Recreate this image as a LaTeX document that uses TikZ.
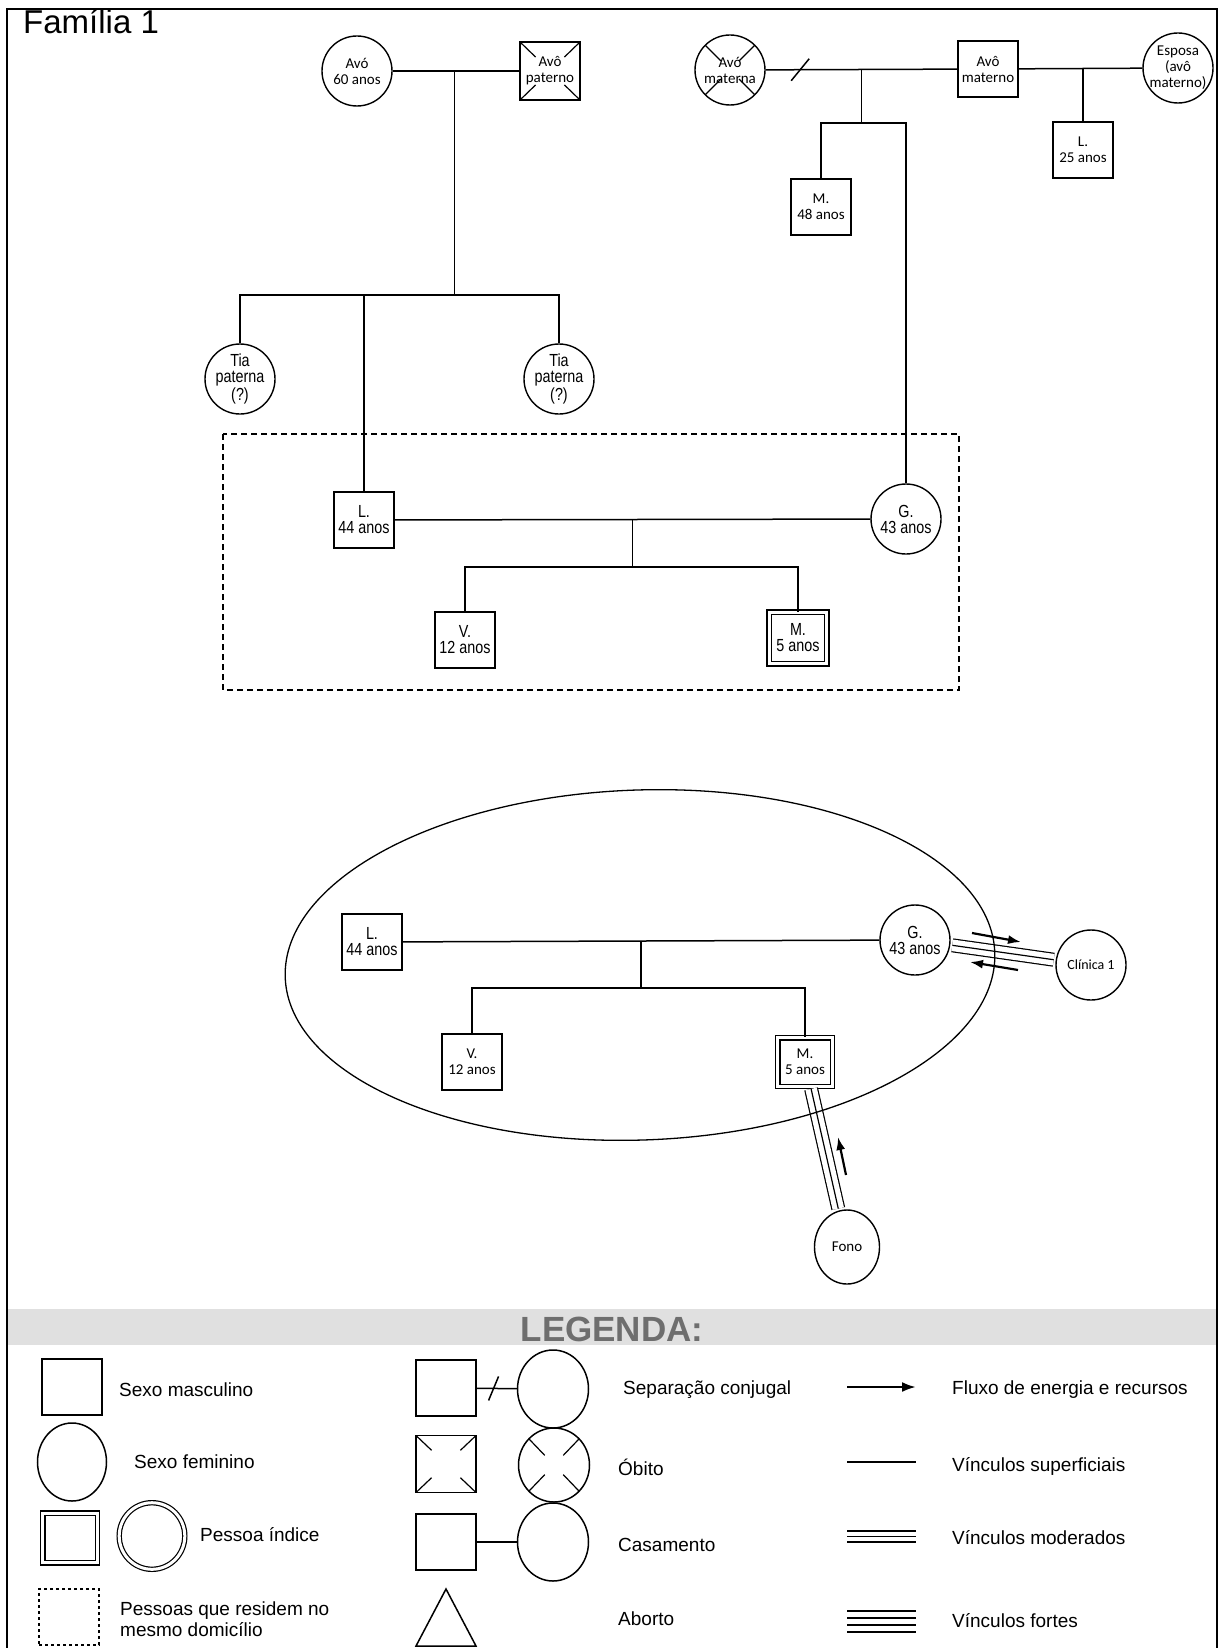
\documentclass[tikz,border=0pt]{standalone}
\usepackage{fontspec}
\setmainfont{Liberation Sans}
\newfontfamily\calfont{Carlito}
\newfontfamily\narrowfont[FakeStretch=0.82]{Liberation Sans}
\usetikzlibrary{shapes.geometric, arrows.meta, calc}

\tikzset{
  male/.style={draw, rectangle, line width=1.4pt, minimum width=60, minimum height=56, inner sep=0pt, align=center},
  female/.style={draw, ellipse, line width=1.4pt, minimum width=70, minimum height=70, inner sep=-6pt, align=center},
  index/.style={male, line width=1.3pt, double, double distance=3pt},
  cal/.style={font=\calfont\fontsize{15}{16}\selectfont},
  nar/.style={font=\narrowfont\fontsize{17.5}{16}\selectfont},
  leg/.style={anchor=west, inner sep=0pt, align=left, font=\fontsize{19}{21}\selectfont},
  tie/.style={line width=1.5pt},
  moderate/.style={line width=14pt, shorten <=2pt, shorten >=2pt,
    postaction={draw=white, line width=11.6pt, shorten <=2pt, shorten >=2pt},
    postaction={draw=black, line width=1.2pt, shorten <=2pt, shorten >=2pt}},
  flow/.style={line width=2.2pt, -{Latex[length=13pt, width=9pt]}},
  deadsq/.style={path picture={
    \foreach \p/\q in {north west/south east, north east/south west, south west/north east, south east/north west}
      \draw[line width=1.2pt] (path picture bounding box.\p) -- ($(path picture bounding box.\p)!0.26!(path picture bounding box.\q)$);}},
  deadci/.style={path picture={
    \foreach \p/\q in {north west/south east, north east/south west, south west/north east, south east/north west}
      \draw[line width=1.2pt] ($(path picture bounding box.\p)!0.12!(path picture bounding box.\q)$) -- ($(path picture bounding box.\p)!0.37!(path picture bounding box.\q)$);}}
}

\begin{document}
\begin{tikzpicture}[x=1pt, y=-1pt]
  \useasboundingbox (0,0) rectangle (1219,1648);
  \draw[line width=1.4pt] (7,1648) -- (7,9) -- (1217,9) -- (1217,1648);
  \node[anchor=base west, inner sep=0pt, font=\fontsize{33}{35}\selectfont] (title) at (23,34) {Família 1};

  \node[female, cal] (avoP) at (357,71) {Avó\\60 anos};
  \node[male, cal, deadsq, minimum height=58] (avoPat) at (550,71) {Avô\\paterno};
  \draw[tie] (avoP) -- coordinate[pos=0.49] (m1) (avoPat);
  \coordinate (s1) at (454,295);
  \draw[tie] (m1) -- (m1 |- s1);
  \node[female, nar] (tia1) at (240,379) {Tia\\paterna\\(?)};
  \node[female, nar] (tia2) at (559,379) {Tia\\paterna\\(?)};
  \draw[tie] (tia1) |- (s1) -| (tia2);

  \node[female, cal, deadci] (avoM) at (730,70) {Avó\\materna};
  \node[male, cal] (avoMat) at (988,69) {Avô\\materno};
  \node[female, cal] (esposa) at (1178,68) {Esposa\\(avô\\materno)};
  \draw[tie] (avoM) -- coordinate[pos=0.18] (sepA) coordinate[pos=0.5] (m2) (avoMat);
  \draw[tie] ($(sepA)+(-9,11)$) -- ($(sepA)+(9,-11)$);
  \draw[tie] (avoMat) -- (esposa);
  \coordinate (s2) at (863,123);
  \draw[tie] (m2) -- (m2 |- s2);
  \node[male, cal] (M48) at (821,207) {M.\\48 anos};
  \node[male, cal] (L25) at (1083,150) {L.\\25 anos};
  \draw[tie] (L25) -- (L25 |- esposa);

  \draw[line width=1.3pt, dash pattern=on 6pt off 4pt] (223,434) rectangle (959,690);
  \node[male, nar] (L44) at (364,520) {L.\\44 anos};
  \node[female, nar] (G43) at (906,519) {G.\\43 anos};
  \draw[tie] (L44) -- coordinate[pos=0.5] (m4) (G43);
  \draw[tie] (L44) -- (L44 |- s1);
  \draw[tie] (M48) |- (s2) -| (G43);
  \coordinate (s4) at (633,567);
  \draw[tie] (m4) -- (m4 |- s4);
  \node[male, nar] (V12) at (465,640) {V.\\12 anos};
  \node[index, nar, minimum width=57.6, minimum height=51.6] (M5) at (798,638) {M.\\5 anos};
  \draw[tie] (V12) |- (s4) -| (M5);

  \node[male, nar] (L44b) at (372,942) {L.\\44 anos};
  \node[female, nar] (G43b) at (915,940) {G.\\43 anos};
  \draw[tie] (L44b) -- coordinate[pos=0.5] (m5) (G43b);
  \coordinate (s5) at (641,988);
  \draw[tie] (m5) -- (m5 |- s5);
  \node[male, cal] (V12b) at (472,1062) {V.\\12 anos};
  \node[index, cal, minimum width=54.6, minimum height=48.6] (M5b) at (805,1062) {M.\\5 anos};
  \draw[tie] (V12b) |- (s5) -| (M5b);
  \node[female, cal, font=\calfont\fontsize{14}{16}\selectfont] (clin) at (1091,965) {Clínica 1};
  \node[female, cal, minimum width=65, minimum height=74] (fono) at (847,1247) {Fono};
  \draw[moderate] (G43b) -- (clin);
  \draw[moderate] (M5b) -- (fono);
  \draw[line width=1.3pt, rotate around={2:(640,965)}] (640,965) ellipse [x radius=355, y radius=175];
  \coordinate (f1a) at (972,933);
  \coordinate (f1b) at (1021,942);
  \coordinate (f2a) at (1018,970);
  \coordinate (f2b) at (970,962);
  \coordinate (f3a) at (846,1175);
  \coordinate (f3b) at (838,1137);
  \draw[flow] (f1a) -- (f1b);
  \draw[flow] (f2a) -- (f2b);
  \draw[flow] (f3a) -- (f3b);

  \fill[black!12] (8,1309) rectangle (1216,1345);
  \node[font=\bfseries\fontsize{35}{40}\selectfont, text=black!57] (legtitle) at (612,1329) {LEGENDA:};

  \node[male, line width=1.5pt] (lgM) at (72,1387) {};
  \node[leg] (lgMt) at (119,1390) {Sexo masculino};
  \node[female, line width=1.5pt, minimum width=69, minimum height=78] (lgF) at (72,1462) {};
  \node[leg] (lgFt) at (134,1462) {Sexo feminino};
  \node[index, minimum width=54.6, minimum height=49.6] (lgI) at (70,1538) {};
  \node[female, line width=1.2pt, double, double distance=3pt, minimum width=65.6, minimum height=66.6] (lgIc) at (152,1536) {};
  \node[leg] (lgIt) at (200,1535) {Pessoa índice};
  \node[draw, line width=1.3pt, dash pattern=on 3pt off 3pt, minimum width=60, minimum height=56] (lgD) at (69,1617) {};
  \node[leg] (lgDt) at (120,1619) {Pessoas que residem no\\mesmo domicílio};

  \node[male, line width=1.5pt] (lgS1) at (446,1388) {};
  \node[female, line width=1.5pt, minimum width=71, minimum height=78] (lgC1) at (553,1389) {};
  \draw[tie] (lgS1) -- coordinate[pos=0.42] (lgSep) (lgC1);
  \draw[tie] ($(lgSep)+(-5,12)$) -- ($(lgSep)+(5,-12)$);
  \node[leg] (lgS1t) at (623,1390) {Separação conjugal};
  \node[male, deadsq, line width=1.5pt, minimum height=57] (lgS2) at (446,1464) {};
  \node[female, deadci, line width=1.5pt, minimum width=71, minimum height=74] (lgC2) at (554,1465) {};
  \node[leg] (lgS2t) at (618,1467) {Óbito};
  \node[male, line width=1.5pt] (lgS3) at (446,1542) {};
  \node[female, line width=1.5pt, minimum width=71, minimum height=78] (lgC3) at (553,1542) {};
  \draw[tie] (lgS3) -- (lgC3);
  \node[leg] (lgS3t) at (618,1545) {Casamento};
  \draw[line width=1.5pt] (446,1589) -- (476,1646) -- (416,1646) -- cycle;
  \node[leg] (lgAt) at (618,1619) {Aborto};

  \draw[line width=2.5pt, -{Latex[length=14pt, width=10pt]}] (847,1387) -- (916,1387);
  \node[leg] (lgFl) at (952,1390) {Fluxo de energia e recursos};
  \draw[tie] (847,1462) -- (916,1462);
  \node[leg] (lgVs) at (952,1466) {Vínculos superficiais};
  \draw[tie] (847,1531) -- (916,1531);
  \draw[tie] (847,1536.5) -- (916,1536.5);
  \draw[tie] (847,1542) -- (916,1542);
  \node[leg] (lgVm) at (952,1538) {Vínculos moderados};
  \draw[tie] (847,1611) -- (916,1611);
  \draw[tie] (847,1618) -- (916,1618);
  \draw[tie] (847,1625) -- (916,1625);
  \draw[tie] (847,1632) -- (916,1632);
  \node[leg] (lgVf) at (952,1621) {Vínculos fortes};
\end{tikzpicture}
\end{document}
